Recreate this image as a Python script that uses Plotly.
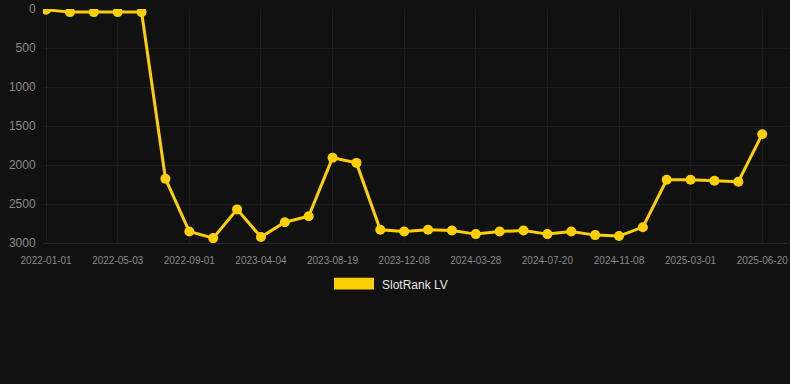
import plotly.graph_objects as go

dates = [
    "2022-01-01", "2022-02-10", "2022-03-22", "2022-05-03", "2022-06-12", "2022-07-22",
    "2022-09-01", "2022-11-15", "2023-01-28", "2023-04-04", "2023-05-20", "2023-07-04",
    "2023-08-19", "2023-09-25", "2023-11-01", "2023-12-08", "2024-01-14", "2024-02-20",
    "2024-03-28", "2024-05-04", "2024-06-12", "2024-07-20", "2024-08-26", "2024-10-02",
    "2024-11-08", "2024-12-15", "2025-01-22", "2025-03-01", "2025-04-10", "2025-05-15",
    "2025-06-20",
]
ranks = [
    10, 40, 40, 40, 40, 2176, 2853, 2937, 2569, 2924, 2734, 2658,
    1906, 1973, 2831, 2853, 2831, 2840, 2886, 2853, 2840, 2886, 2853, 2899,
    2911, 2797, 2189, 2189, 2201, 2214, 1605,
]
tick_labels = dates[::3]
y_ticks = [0, 500, 1000, 1500, 2000, 2500, 3000]
series_name = "SlotRank LV"

color = "#FFCF00"
bg = "#111111"
grid = "#1d1d1d"
label_color = "#8a8a8a"

fig = go.Figure()
fig.add_trace(go.Scatter(
    x=list(range(len(dates))), y=ranks, mode="lines+markers",
    name=series_name, showlegend=False,
    line=dict(color=color, width=3),
    marker=dict(color=color, size=10),
    customdata=dates,
    hovertemplate="%{customdata}: %{y}<extra></extra>",
))

fig.update_layout(
    width=790, height=384,
    paper_bgcolor=bg, plot_bgcolor=bg,
    margin=dict(l=43, r=2, t=7, b=141),
    font=dict(family="Liberation Sans, Arial, sans-serif", color=label_color),
    showlegend=False,
    xaxis=dict(
        range=[-0.13, 31.08],
        tickvals=list(range(0, len(dates), 3)), ticktext=tick_labels,
        tickfont=dict(size=10, color=label_color),
        showgrid=True, gridcolor=grid, gridwidth=1,
        zeroline=False, showline=True, linecolor="#282828", linewidth=1,
        ticks="outside", ticklen=8, tickcolor=bg,
    ),
    yaxis=dict(
        range=[3000, 0],
        tickvals=y_ticks,
        tickfont=dict(size=12, color=label_color),
        showgrid=True, gridcolor=grid, gridwidth=1,
        zeroline=False, showline=False,
        ticks="outside", ticklen=4, tickcolor=bg,
    ),
)

# legend entry (box + label)
fig.add_shape(type="rect", xref="paper", yref="paper",
              x0=(334 - 43) / 745, x1=(374 - 43) / 745,
              y0=(243 - 290) / 236, y1=(243 - 278) / 236,
              fillcolor=color, line=dict(width=0))
fig.add_annotation(xref="paper", yref="paper",
                   x=(380 - 43) / 745, y=(243 - 285) / 236,
                   xanchor="left", yanchor="middle", showarrow=False,
                   text=series_name, font=dict(size=12, color="#e6e6e6"))

fig.write_html(
    "out.html",
    config={"displayModeBar": False},
    post_script="document.body.style.margin='0';document.body.style.background='#111111';",
)
